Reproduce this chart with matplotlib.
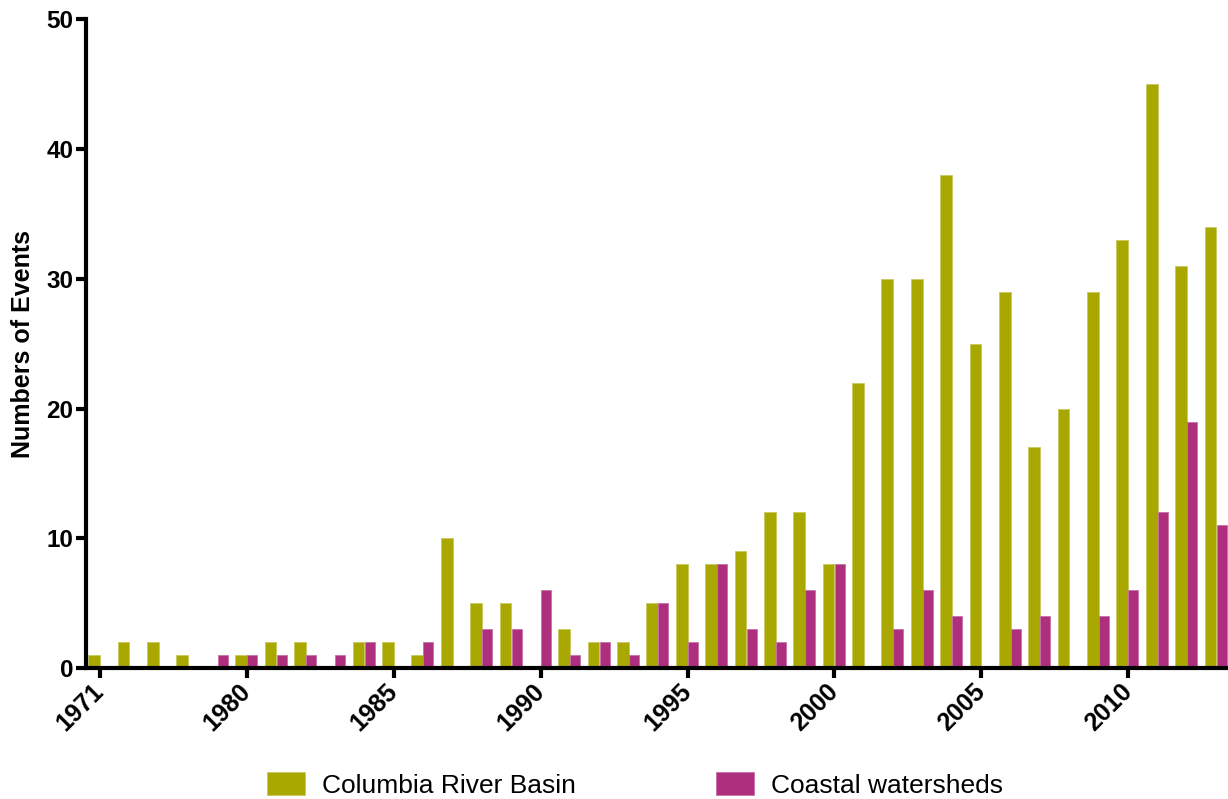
import matplotlib.pyplot as plt
import numpy as np

plt.rcParams['font.family'] = ['Liberation Sans', 'DejaVu Sans']

# one category per year with recorded events
years = ['1971', '1974', '1975', '1977', '1979'] + [str(y) for y in range(1980, 2014)]
columbia = [1, 2, 2, 1, 0,
            1, 2, 2, 0, 2, 2, 1, 10, 5, 5,
            0, 3, 2, 2, 5, 8, 8, 9, 12, 12,
            8, 22, 30, 30, 38, 25, 29, 17, 20, 29,
            33, 45, 31, 34]
coastal = [0, 0, 0, 0, 1,
           1, 1, 1, 1, 2, 0, 2, 0, 3, 3,
           6, 1, 2, 1, 5, 2, 8, 3, 2, 6,
           8, 0, 3, 6, 4, 0, 3, 4, 0, 4,
           6, 12, 19, 11]
shown_labels = ['1971', '1980', '1985', '1990', '1995', '2000', '2005', '2010']

green = '#a9a800'
magenta = '#ad2f7e'

fig = plt.figure(figsize=(12.28, 7.99), dpi=100)
ax = fig.add_axes([0.070, 0.164, 0.930, 0.8116])

x = np.arange(len(years))
ax.bar(x - 0.2, columbia, width=0.4, color=green, edgecolor='#c8c860', linewidth=0.6,
       label='Columbia River Basin')
ax.bar(x + 0.18, coastal, width=0.34, color=magenta, edgecolor='#c870a8', linewidth=0.6,
       label='Coastal watersheds')

ax.set_xlim(-0.48, 38.4)
ax.set_ylim(0, 50)
ax.set_yticks(range(0, 51, 10))

tick_pos = [years.index(lbl) for lbl in shown_labels]
ax.set_xticks(tick_pos)
ax.set_xticklabels(shown_labels, rotation=45, ha='right', va='center',
                   rotation_mode='anchor', fontsize=18, fontweight='bold')
for lbl in ax.get_yticklabels():
    lbl.set_fontsize(17.5)
    lbl.set_fontweight('bold')

for side in ['top', 'right']:
    ax.spines[side].set_visible(False)
for side in ['left', 'bottom']:
    ax.spines[side].set_linewidth(3)
ax.tick_params(axis='both', width=3, length=7, pad=2)
ax.tick_params(axis='x', pad=7)

ax.set_ylabel('Numbers of Events', fontsize=18, fontweight='bold', labelpad=8)

fig.legend(loc='center', bbox_to_anchor=(0.517, 0.0175), ncol=2, frameon=False,
           fontsize=19, handlelength=1.44, handleheight=0.91, handletextpad=0.64,
           columnspacing=5.3)

fig.savefig('out.png', dpi=100)
